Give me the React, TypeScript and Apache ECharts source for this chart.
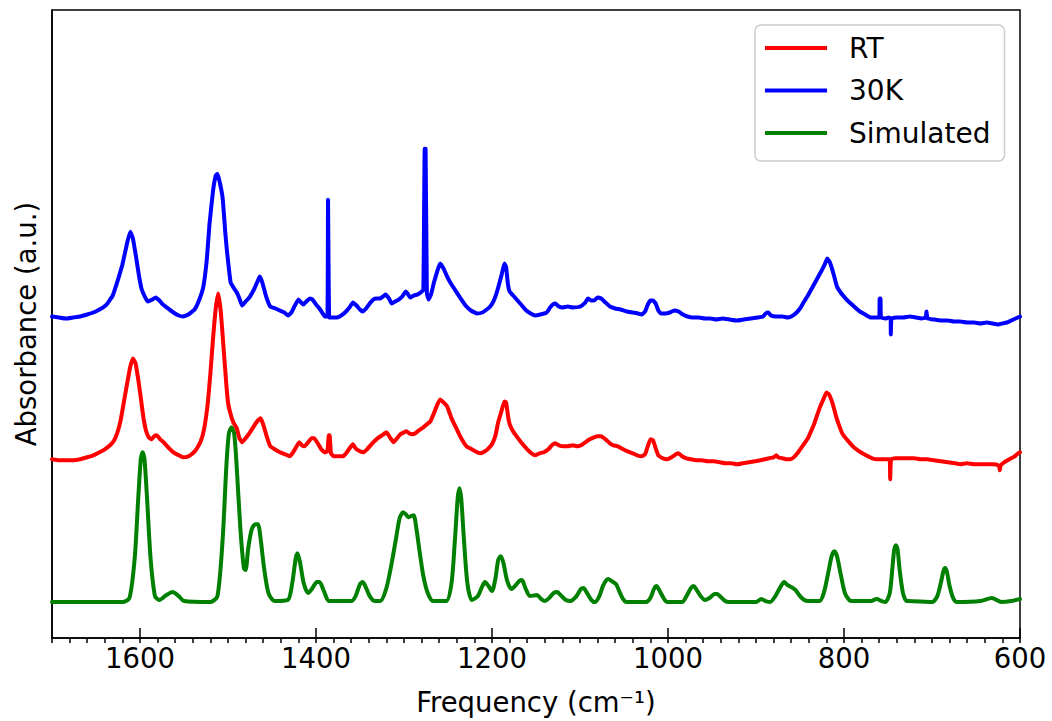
import React, { useEffect, useRef } from "react";
import * as echarts from "echarts";

// Frequency axis (cm^-1), inverted: 1700 on the left, 600 on the right
const xMin = 600;
const xMax = 1700;
const majorStep = 200;
const minorStep = 20;
const seriesNames = ["RT", "30K", "Simulated"];
const seriesColors = ["#ff0000", "#0000ff", "#008000"];

// [frequency, absorbance (a.u., stacked offsets)]
const rt: number[][] = [
  [1700,179],[1692,178],[1684,178],[1676,178],[1668,179],[1660,181],[1653,183],[1646,186],[1640,189],[1634,193],[1630,197],[1626,205],[1622,218],[1618,238],[1614,258],[1611,272],[1608,280],[1605,275],[1602,259],[1599,240],[1596,220],[1593,207],[1590,201],[1587,199],[1584,202],[1581,203],[1577,199],[1573,196],[1568,191],[1562,186],[1556,183],[1551,181],[1545,182],[1540,185],[1536,189],[1531,197],[1527,210],[1523,235],[1520,265],[1517,300],[1514,330],[1511,345],[1508,325],[1505,290],[1502,255],[1500,236],[1497,224],[1494,216],[1490,210],[1487,200],[1484,196],[1480,200],[1475,206],[1470,213],[1466,218],[1463,220],[1460,214],[1456,202],[1452,192],[1447,189],[1441,186],[1435,184],[1430,182],[1426,186],[1422,192],[1419,196],[1416,193],[1413,192],[1409,196],[1405,200],[1402,200],[1398,195],[1394,189],[1390,186],[1387,187],[1385.5,203],[1384.5,203],[1383,185],[1380,182],[1374,182],[1369,182],[1365,186],[1361,191],[1358,194],[1355,190],[1350,187],[1346,186],[1342,189],[1338,193],[1335,196],[1330,200],[1325,203],[1320,206],[1316,201],[1312,196],[1308,200],[1304,204],[1300,206],[1297,207],[1294,205],[1291,204],[1287,205],[1283,208],[1278,211],[1274,214],[1270,217],[1266,225],[1262,234],[1259,239],[1255,236],[1251,232],[1246,220],[1240,209],[1235,200],[1229,192],[1223,189],[1217,186],[1213,185],[1208,187],[1204,190],[1200,194],[1196,203],[1193,216],[1189,228],[1186,237],[1184,236],[1181,218],[1179,212],[1176,207],[1172,202],[1166,195],[1160,189],[1155,185],[1151,183],[1146,185],[1141,186],[1136,189],[1132,193],[1128,195],[1124,193],[1119,192],[1114,192],[1108,193],[1103,192],[1099,193],[1094,196],[1089,199],[1084,201],[1080,202],[1076,202],[1071,199],[1066,195],[1062,193],[1057,192],[1051,189],[1046,187],[1040,185],[1035,183],[1030,182],[1026,184],[1023,192],[1020,199],[1017,198],[1014,190],[1011,183],[1006,180],[1001,179],[996,181],[991,184],[988,185],[984,182],[979,180],[974,179],[968,178],[962,178],[955,177],[948,177],[941,176],[934,175],[928,175],[922,174],[915,175],[908,176],[901,177],[895,178],[890,179],[885,180],[880,181],[877,183],[875,181],[870,180],[865,179],[861,179],[857,181],[853,185],[849,190],[845,195],[841,200],[838,206],[834,214],[831,222],[827,232],[823,240],[820,246],[817,244],[813,235],[809,222],[806,214],[802,205],[797,199],[791,193],[786,189],[781,186],[775,183],[768,180],[762,179],[756,179],[750,179],[748,179],[747.5,159],[746.8,159],[746.5,179],[742,180],[735,180],[727,180],[720,180],[713,179],[706,179],[698,178],[690,177],[682,176],[674,175],[668,174],[660,175],[652,174],[645,174],[638,174],[630,174],[625,173],[623.5,171],[623,168],[622,173],[618,176],[614,178],[610,180],[606,182],[602,185],[600,186]
];

const k30: number[][] = [
  [1700,322],[1692,321],[1684,320],[1676,321],[1668,322],[1660,324],[1653,326],[1646,329],[1638,334],[1631,343],[1625,359],[1620,374],[1617,386],[1614,398],[1611,407],[1608,400],[1604,379],[1601,362],[1598,349],[1594,341],[1591,337],[1586,339],[1582,341],[1578,338],[1574,334],[1568,330],[1562,326],[1556,323],[1551,322],[1545,324],[1538,329],[1533,338],[1528,352],[1524,380],[1521,415],[1517,448],[1514,463],[1512,465],[1509,455],[1506,440],[1503,405],[1501,386],[1497,356],[1493,350],[1490,346],[1487,340],[1484,333],[1480,337],[1475,342],[1470,350],[1466,358],[1464,362],[1461,356],[1457,343],[1452,332],[1446,330],[1441,328],[1436,326],[1432,323],[1428,326],[1424,333],[1420,339],[1417,336],[1414,334],[1411,337],[1407,340],[1404,339],[1400,334],[1397,331],[1393,326],[1390,322],[1387,322],[1386.3,439],[1385.5,439],[1385,321],[1382,321],[1377,321],[1373,322],[1367,326],[1362,331],[1358,336],[1354,333],[1350,329],[1347,327],[1343,330],[1339,335],[1335,339],[1331,340],[1327,340],[1324,342],[1321,344],[1317,340],[1314,335],[1310,337],[1306,339],[1302,342],[1298,347],[1296,345],[1293,341],[1289,343],[1285,344],[1281,346],[1278,349],[1276.5,490],[1275.5,490],[1274,345],[1272,339],[1269,345],[1266,356],[1262,368],[1259,375],[1255,370],[1251,362],[1246,354],[1240,346],[1234,338],[1229,332],[1224,328],[1217,325],[1211,326],[1206,329],[1202,332],[1198,338],[1195,345],[1192,354],[1189,364],[1186,375],[1184,372],[1182,355],[1180,347],[1176,343],[1172,339],[1167,334],[1161,328],[1156,325],[1151,323],[1145,324],[1138,326],[1134,331],[1131,334],[1128,335],[1124,332],[1120,331],[1114,332],[1108,331],[1100,332],[1094,336],[1091,340],[1087,338],[1084,338],[1080,341],[1076,340],[1071,336],[1066,332],[1060,330],[1054,329],[1047,327],[1040,326],[1034,325],[1030,324],[1026,327],[1023,334],[1020,338],[1017,338],[1014,335],[1011,328],[1008,325],[1003,325],[998,326],[993,328],[988,327],[983,324],[978,322],[972,321],[965,321],[958,320],[952,320],[945,319],[938,320],[930,319],[922,318],[914,319],[906,320],[898,321],[892,322],[889,325],[886,326],[883,323],[877,322],[870,322],[864,321],[860,322],[855,325],[850,330],[846,336],[841,343],[836,351],[831,359],[826,367],[822,374],[819,380],[816,376],[812,365],[808,352],[803,345],[797,339],[791,334],[786,330],[782,327],[776,324],[770,321],[765,321],[760,321],[759.5,340],[758.5,340],[758,321],[753,320],[749,321],[747,320],[746.8,304],[746.2,304],[746,320],[740,321],[733,321],[725,322],[718,321],[712,320],[707,321],[706.3,327],[705.7,327],[705,320],[698,319],[690,318],[682,318],[675,317],[668,317],[660,316],[652,316],[645,315],[638,316],[631,315],[625,314],[620,315],[615,316],[610,318],[605,320],[600,322]
];

const sim: number[][] = [
  [1700,36],[1620,36],[1612,40],[1606,80],[1602,140],[1599,180],[1597,186],[1595,180],[1592,140],[1588,80],[1583,42],[1578,38],[1570,43],[1563,46],[1556,42],[1550,37],[1520,36],[1512,42],[1506,100],[1502,170],[1499,205],[1496,211],[1493,205],[1490,170],[1486,110],[1482,70],[1480,68],[1477,90],[1473,109],[1469,114],[1466,114],[1463,100],[1459,70],[1454,45],[1447,37],[1432,38],[1427,55],[1423,80],[1421,85],[1418,75],[1414,55],[1409,45],[1404,50],[1399,56],[1396,56],[1391,47],[1385,37],[1360,37],[1355,42],[1350,54],[1347,56],[1344,52],[1339,42],[1333,37],[1327,37],[1320,50],[1314,75],[1309,100],[1305,120],[1301,126],[1298,124],[1295,121],[1292,122],[1289,123],[1286,110],[1282,85],[1278,62],[1273,45],[1267,37],[1252,37],[1246,55],[1242,100],[1239,140],[1237,150],[1235,140],[1232,100],[1228,55],[1223,38],[1216,42],[1212,50],[1208,56],[1204,52],[1200,47],[1196,60],[1193,78],[1190,82],[1187,75],[1183,58],[1178,49],[1174,52],[1169,57],[1166,58],[1162,50],[1157,42],[1149,43],[1144,39],[1140,37],[1135,40],[1130,45],[1126,46],[1121,42],[1116,38],[1111,37],[1104,42],[1099,49],[1096,50],[1092,45],[1087,38],[1083,36],[1078,42],[1074,52],[1070,58],[1068,59],[1064,57],[1059,54],[1055,46],[1051,39],[1047,36],[1025,36],[1020,40],[1016,49],[1013,52],[1010,48],[1005,40],[1001,36],[984,36],[979,42],[974,50],[971,52],[968,49],[963,42],[958,38],[953,40],[947,44],[944,44],[940,41],[935,37],[931,36],[900,36],[894,39],[889,37],[884,36],[878,42],[873,50],[868,56],[864,53],[858,50],[855,48],[850,42],[845,38],[841,37],[828,37],[823,45],[818,65],[814,82],[811,87],[808,82],[804,65],[799,45],[794,38],[791,37],[770,37],[763,39],[757,37],[753,36],[748,45],[745,70],[743,88],[741,93],[739,88],[737,70],[733,45],[729,37],[727,37],[700,36],[694,42],[690,55],[687,67],[685,70],[683,66],[680,52],[676,40],[672,36],[645,37],[632,40],[621,36],[610,37],[600,39]
];

const FONT = "'DejaVu Sans', sans-serif";
const FS = 27.5;

export default function App() {
  const ref = useRef<HTMLDivElement>(null);
  useEffect(() => {
    document.body.style.margin = "0";
    if (!ref.current) return;
    const chart = echarts.init(ref.current, null, { renderer: "svg" });
    const axisLineStyle = { color: "#000", width: 1.5 };
    const datasets = [rt, k30, sim];
    chart.setOption({
      animation: false,
      backgroundColor: "#fff",
      grid: {
        left: 52, right: 32, top: 10, bottom: 82,
        show: true, borderColor: "#000", borderWidth: 1.5, backgroundColor: "transparent",
      },
      legend: {
        orient: "vertical",
        left: 755, top: 25,
        data: seriesNames,
        icon: "rect",
        itemWidth: 62, itemHeight: 4, itemGap: 12.5,
        padding: [8, 14, 13, 10],
        borderColor: "#cccccc", borderWidth: 1.5, borderRadius: 6,
        backgroundColor: "rgba(255,255,255,0.85)",
        textStyle: { fontFamily: FONT, fontSize: 28, color: "#000", lineHeight: 30, padding: [0, 0, 0, 17] },
      },
      xAxis: [
        {
          type: "value", min: xMin, max: xMax, interval: majorStep, inverse: true, position: "bottom",
          axisLine: { show: true, onZero: false, lineStyle: axisLineStyle },
          axisTick: { show: true, inside: true, length: 10, lineStyle: axisLineStyle },
          axisLabel: {
            show: true, margin: 6, fontFamily: FONT, fontSize: FS, color: "#000", showMaxLabel: false,
            formatter: (v: number) => String(v),
          },
          splitLine: { show: false },
          name: "Frequency (cm\u207B\u00B9)",
          nameLocation: "middle", nameGap: 50,
          nameTextStyle: { fontFamily: FONT, fontSize: FS, color: "#000" },
        },
        {
          type: "value", min: xMin, max: xMax, interval: minorStep, inverse: true, position: "bottom",
          axisLine: { show: false, onZero: false },
          axisTick: { show: true, inside: false, length: 5, lineStyle: axisLineStyle },
          axisLabel: { show: false },
          splitLine: { show: false },
        },
      ],
      yAxis: {
        type: "value", min: 0, max: 629,
        axisLine: { show: true, onZero: false, lineStyle: axisLineStyle },
        axisTick: { show: false },
        axisLabel: { show: false },
        splitLine: { show: false },
        name: "Absorbance (a.u.)",
        nameLocation: "middle", nameGap: 12, nameRotate: 90,
        nameTextStyle: { fontFamily: FONT, fontSize: FS, color: "#000" },
      },
      series: seriesNames.map((n, i) => ({
        name: n,
        type: "line",
        xAxisIndex: 0,
        data: datasets[i],
        showSymbol: false,
        symbol: "none",
        smooth: i === 2 ? 0.25 : 0.1,
        lineStyle: { color: seriesColors[i], width: 4, join: "round", cap: "round" },
        itemStyle: { color: seriesColors[i] },
        z: 3 - i,
      })),
    });
    return () => chart.dispose();
  }, []);
  return <div ref={ref} style={{ width: 1052, height: 721 }} />;
}
